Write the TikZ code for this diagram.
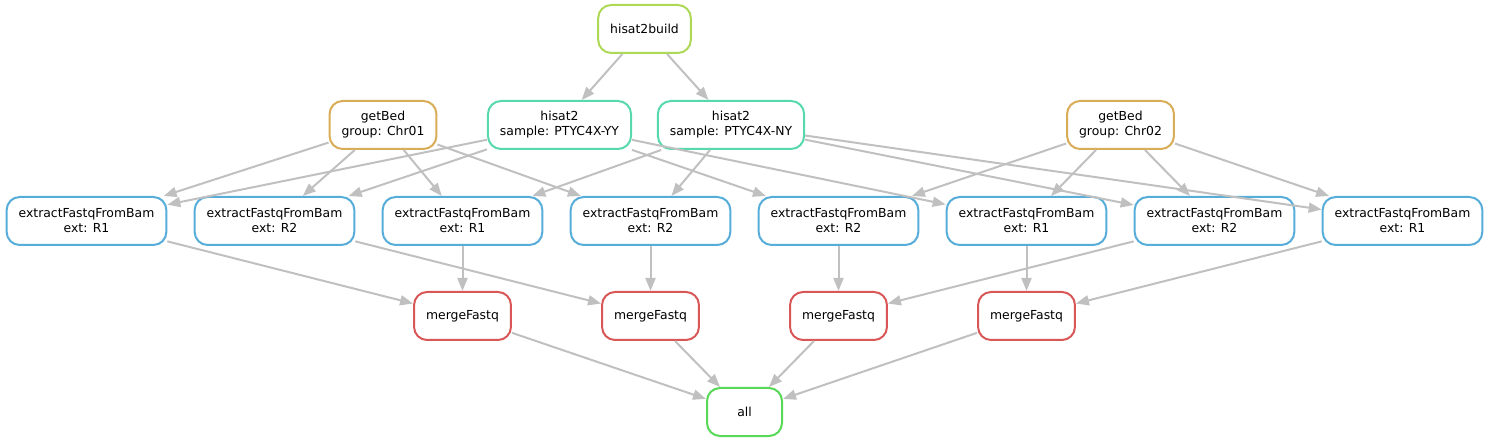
\documentclass[tikz,border=0pt]{standalone}
\usepackage{fontspec}
\setmainfont{DejaVu Sans}
\usetikzlibrary{arrows.meta}

\definecolor{redrule}{RGB}{217,87,87}
\definecolor{orangerule}{RGB}{217,173,87}
\definecolor{limerule}{RGB}{173,217,87}
\definecolor{greenrule}{RGB}{87,217,87}
\definecolor{tealrule}{RGB}{87,217,173}
\definecolor{bluerule}{RGB}{87,173,217}
\definecolor{edgegray}{RGB}{192,192,192}

\begin{document}
\begin{tikzpicture}
  [x=1pt, y=-1pt,
   line width=2pt,
   rule/.style={rectangle, draw, rounded corners=13pt, fill=white,
                align=center, inner xsep=12pt, inner ysep=4pt,
                minimum height=48pt, minimum width=75pt,
                font=\fontsize{12.4}{15}\selectfont},
   flow/.style={draw=edgegray, fill=edgegray, line width=2pt,
                -{Triangle[length=13pt,width=10pt]}}
  ]
  \useasboundingbox (0,0) rectangle (1491,443);

  \node[rule, draw=limerule]   (HB) at (644.5,29)  {hisat2build};
  \node[rule, draw=orangerule] (G1) at (383,125)   {getBed\\group: Chr01};
  \node[rule, draw=tealrule]   (H1) at (559.5,125) {hisat2\\sample: PTYC4X-YY};
  \node[rule, draw=tealrule]   (H2) at (731,125)   {hisat2\\sample: PTYC4X-NY};
  \node[rule, draw=orangerule] (G2) at (1120.5,125) {getBed\\group: Chr02};

  \node[rule, draw=bluerule] (E1) at (86.5,221)   {extractFastqFromBam\\ext: R1};
  \node[rule, draw=bluerule] (E2) at (274.5,221)  {extractFastqFromBam\\ext: R2};
  \node[rule, draw=bluerule] (E3) at (462.5,221)  {extractFastqFromBam\\ext: R1};
  \node[rule, draw=bluerule] (E4) at (650.5,221)  {extractFastqFromBam\\ext: R2};
  \node[rule, draw=bluerule] (E5) at (838.5,221)  {extractFastqFromBam\\ext: R2};
  \node[rule, draw=bluerule] (E6) at (1026.5,221) {extractFastqFromBam\\ext: R1};
  \node[rule, draw=bluerule] (E7) at (1214.5,221) {extractFastqFromBam\\ext: R2};
  \node[rule, draw=bluerule] (E8) at (1402.5,221) {extractFastqFromBam\\ext: R1};

  \node[rule, draw=redrule] (M1) at (462.5,316)  {mergeFastq};
  \node[rule, draw=redrule] (M2) at (650.5,316)  {mergeFastq};
  \node[rule, draw=redrule] (M3) at (838.5,316)  {mergeFastq};
  \node[rule, draw=redrule] (M4) at (1026.5,316) {mergeFastq};

  \node[rule, draw=greenrule] (ALL) at (744.5,412) {all};

  \draw[flow] (HB) -- (H1);
  \draw[flow] (HB) -- (H2);

  \draw[flow] (G1) -- (E1);
  \draw[flow] (G1) -- (E2);
  \draw[flow] (G1) -- (E3);
  \draw[flow] (G1) -- (E4);
  \draw[flow] (H1) -- (E1);
  \draw[flow] (H1) -- (E2);
  \draw[flow] (H1) -- (E5);
  \draw[flow] (H1) -- (E6);
  \draw[flow] (H2) -- (E3);
  \draw[flow] (H2) -- (E4);
  \draw[flow] (H2) -- (E7);
  \draw[flow] (H2) -- (E8);
  \draw[flow] (G2) -- (E5);
  \draw[flow] (G2) -- (E6);
  \draw[flow] (G2) -- (E7);
  \draw[flow] (G2) -- (E8);

  \draw[flow] (E1) -- (M1);
  \draw[flow] (E3) -- (M1);
  \draw[flow] (E2) -- (M2);
  \draw[flow] (E4) -- (M2);
  \draw[flow] (E5) -- (M3);
  \draw[flow] (E7) -- (M3);
  \draw[flow] (E6) -- (M4);
  \draw[flow] (E8) -- (M4);

  \draw[flow] (M1) -- (ALL);
  \draw[flow] (M2) -- (ALL);
  \draw[flow] (M3) -- (ALL);
  \draw[flow] (M4) -- (ALL);
\end{tikzpicture}
\end{document}
